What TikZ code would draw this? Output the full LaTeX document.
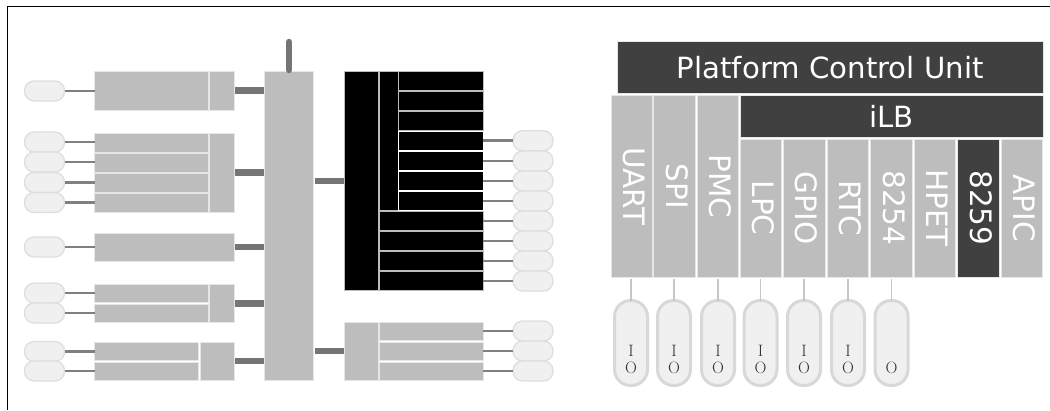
\documentclass[tikz,border=0pt]{standalone}
\usepackage{xcolor}
\usepackage{graphicx}
\usepackage{fontspec}
\usetikzlibrary{calc}
\newfontfamily\labelfont{DejaVu Sans}
\newcommand{\coltext}[1]{\rotatebox{-90}{\raisebox{5pt}{#1}}}
\definecolor{unitgray}{HTML}{BDBDBD}
\definecolor{unitedge}{HTML}{E6E6E6}
\definecolor{unitdark}{HTML}{404040}
\definecolor{pillfill}{HTML}{F0F0F0}
\definecolor{pilledge}{HTML}{DEDEDE}
\definecolor{pinedge}{HTML}{D8D8D8}
\definecolor{busgray}{HTML}{757575}
\definecolor{wiregray}{HTML}{808080}
\tikzset{
    unit/.style 2 args={draw=unitedge, fill=unitgray, line width=0.8pt, inner sep=0pt, outer sep=0pt, minimum width=#1pt, minimum height=#2pt},
    blackunit/.style 2 args={unit={#1}{#2}, draw=unitgray, fill=black},
    whiteunit/.style 2 args={unit={#1}{#2}, draw=white, fill=black},
    darkunit/.style 2 args={unit={#1}{#2}, draw=unitedge, fill=unitdark, text=white},
    pill/.style={draw=pilledge, fill=pillfill, line width=1.3pt, rounded corners=9.5pt, inner sep=0pt, outer sep=0pt, minimum width=40pt, minimum height=20pt},
    pinpill/.style={draw=pinedge, fill=pillfill, line width=3pt, rounded corners=16pt, inner sep=0pt, outer sep=0pt, minimum width=33pt, minimum height=85pt},
    wire/.style={draw=wiregray, line width=2.6pt},
    bus/.style={draw=busgray, line width=6.5pt, shorten <=1pt, shorten >=1pt},
    pinwire/.style={draw=unitgray!85, line width=1.5pt},
    unitlabel/.style={font=\labelfont\fontsize{29.2}{31}\selectfont},
    columnlabel/.style={text=white, font=\labelfont\fontsize{29.5}{31}\selectfont},
    pinlabel/.style={inner sep=0pt, text=black!80, font=\fontsize{16.5}{17}\selectfont}
}
\begin{document}
\begin{tikzpicture}[x=1pt,y=-1pt]
    \useasboundingbox (0,0) rectangle (1050,410);

    % Frame along the top and the left
    \coordinate (frametop) at (1050,6.5);
    \coordinate (framecorner) at (7.5,6.5);
    \coordinate (framebottom) at (7.5,410);
    \draw[black, line width=1.2pt] (frametop) -- (framecorner) -- (framebottom);

    % Central block and its top stub
    \node[unit={49}{309}] (central) at (289,225.5) {};
    \coordinate (stubtop) at (289,42);
    \draw[draw=busgray, line width=6.5pt, line cap=round] (stubtop) -- ($(central.north)+(0,-1)$);

    % Left side controllers
    \node[unit={113.5}{39}] (ctla) at (151.25,90.5) {};
    \node[unit={24.5}{39}] (ctlaport) at (221.75,90.5) {};
    \node[unit={24.5}{79}] (ctlb) at (221.75,172.5) {};
    \node[unit={139.5}{28}] (ctlc) at (164.25,247) {};
    \node[unit={24.5}{38.5}] (ctld) at (221.75,303.25) {};
    \node[unit={34}{38}] (ctle) at (217,361) {};

    \foreach \n/\y in {a1/142.5,a2/162.5,a3/182.5,a4/202.5}
        \node[unit={113.5}{19}] (ctl\n) at (151.25,\y) {};
    \node[unit={113.5}{18.5}] (ctld1) at (151.25,293.25) {};
    \node[unit={113.5}{18.5}] (ctld2) at (151.25,313.25) {};
    \node[unit={104}{18}] (ctle1) at (146.5,351) {};
    \node[unit={104}{18}] (ctle2) at (146.5,371) {};

    % Pills on the left, with their wires
    \node[pill] (pillx) at (44.5,91) {};
    \draw[wire] (pillx.east) -- (ctla.west |- pillx.east);
    \foreach \n/\y in {a1/142,a2/162,a3/182.5,a4/202.5,d1/293,d2/313,e1/351.5,e2/371} {
        \node[pill] (pill\n) at (44.5,\y) {};
        \draw[wire] (pill\n.east) -- (ctl\n.west |- pill\n.east);
    }
    \node[pill] (pillc) at (44.5,247) {};
    \draw[wire] (pillc.east) -- (ctlc.west |- pillc.east);

    % Buses into the central block
    \draw[bus] (ctlaport.east) -- (ctlaport.east -| central.west);
    \draw[bus] (ctlb.east) -- (ctlb.east -| central.west);
    \draw[bus] (ctlc.east) -- (ctlc.east -| central.west);
    \draw[bus] (ctld.east) -- (ctld.east -| central.west);
    \draw[bus] (ctle.east) -- (ctle.east -| central.west);

    % Black block
    \node[blackunit={33.5}{218.5}] (hub) at (361.25,180.75) {};
    \node[blackunit={19}{138.5}] (hubin) at (389,140.75) {};
    \foreach \n/\y in {1/80.75,2/100.75,3/120.75}
        \node[blackunit={84.5}{19}] (slot\n) at (441,\y) {};
    \foreach \n/\y in {4/140.75,5/160.75,6/180.75,7/200.75} {
        \node[whiteunit={84.5}{19}] (slot\n) at (441,\y) {};
    }
    \foreach \n/\y in {8/220.75,9/240.75,10/260.75,11/280.75}
        \node[blackunit={103.5}{19}] (slot\n) at (431.5,\y) {};
    \foreach \n/\y in {4/140.75,5/161,6/181,7/201,8/221,9/241,10/261,11/281} {
        \node[pill] (pillr\n) at (533,\y) {};
        \draw[wire] (pillr\n.west) -- (slot\n.east |- pillr\n.west);
    }
    \draw[bus] (central.east |- hub.west) -- (hub.west);

    % Lower block
    \node[unit={33.5}{58}] (south) at (361.25,351) {};
    \foreach \n/\y in {1/331,2/351,3/371} {
        \node[unit={103.5}{18}] (southport\n) at (431.5,\y) {};
        \node[pill] (pills\n) at (533,\y) {};
        \draw[wire] (pills\n.west) -- (southport\n.east |- pills\n.west);
    }
    \draw[bus] (central.east |- south.west) -- (south.west);

    % Platform Control Unit
    \node[darkunit={425.5}{52}, unitlabel] (pcu) at (830.25,67.5) {Platform Control Unit};
    \node[darkunit={303}{42}, unitlabel] (ilb) at (891.5,116.5) {iLB};

    % Columns and pins
    \foreach \n/\x/\t in {uart/631.75/UART,spi/674.5/SPI,pmc/717.75/PMC}
        \node[unit={41.5}{181.5}, columnlabel] (\n) at (\x,186.25) {\coltext{\t}};
    \foreach \n/\x/\t in {lpc/761/LPC,gpio/804.25/GPIO,rtc/848/RTC,chipa/891.5/8254,hpet/935/HPET,apic/1022/APIC}
        \node[unit={41.5}{138}, columnlabel] (\n) at (\x,208) {\coltext{\t}};
    \node[darkunit={41.5}{138}, columnlabel] (chipb) at (978.5,208) {\coltext{8259}};

    \foreach \n/\x in {uart/631,spi/674,pmc/718,lpc/760.5,gpio/804,rtc/848} {
        \node[pinpill] (pin\n) at (\x,343) {};
        \node[pinlabel, anchor=base] (in\n) at (\x,356) {I};
        \node[pinlabel, anchor=base] (out\n) at (\x,373) {O};
        \draw[pinwire] (pin\n.north) -- ($(pin\n.north |- \n.south)+(0,2)$);
    }
    \node[pinpill] (pinchipa) at (891.5,343) {};
    \node[pinlabel, anchor=base] (outchipa) at (891.5,373) {O};
    \draw[pinwire] (pinchipa.north) -- ($(pinchipa.north |- chipa.south)+(0,2)$);

\end{tikzpicture}
\end{document}
